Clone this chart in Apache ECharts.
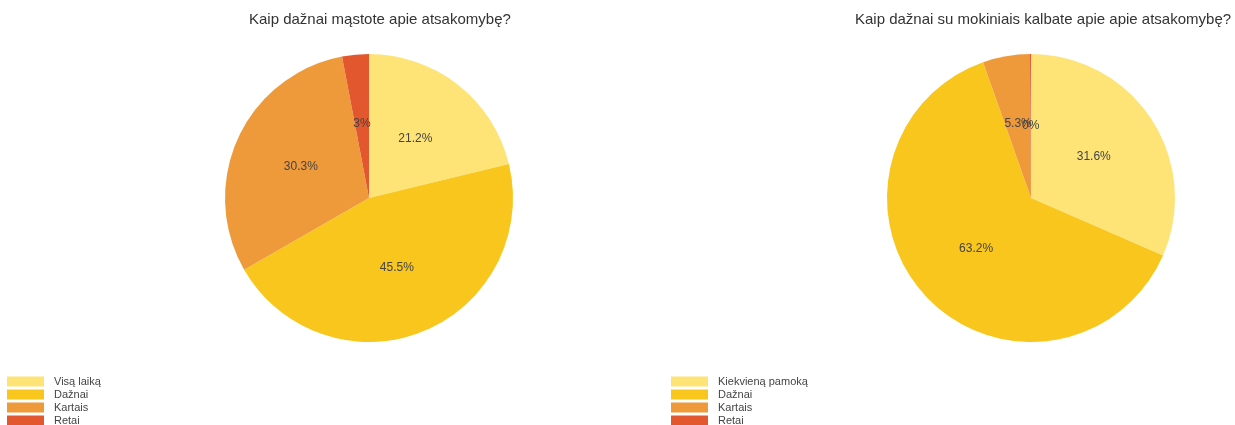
<!DOCTYPE html>
<html>
<head>
<meta charset="utf-8">
<script src="https://cdn.jsdelivr.net/npm/echarts@6/dist/echarts.min.js"></script>
<style>
html,body{margin:0;padding:0;background:#fff;}
#c{width:1235px;height:425px;}
</style>
</head>
<body>
<div id="c"></div>
<script>
const title1 = 'Kaip dažnai mąstote apie atsakomybę?';
const title2 = 'Kaip dažnai su mokiniais kalbate apie apie atsakomybę?';
const categories1 = ['Visą laiką', 'Dažnai', 'Kartais', 'Retai'];
const categories2 = ['Kiekvieną pamoką', 'Dažnai', 'Kartais', 'Retai'];
const values1 = [21.2, 45.5, 30.3, 3];
const values2 = [31.6, 63.2, 5.3, 0];
const colors = ['#FEE477', '#F8C61C', '#EE9A3B', '#E3572F'];

const chart = echarts.init(document.getElementById('c'));
function mk(cats, vals) {
  return cats.map((n, i) => ({ name: n, value: vals[i], itemStyle: { color: colors[i] } }));
}
const font = 'Liberation Sans, Arial, sans-serif';
const legendCommon = {
  orient: 'vertical',
  top: 376,
  height: 200,
  padding: 0,
  icon: 'rect',
  itemWidth: 37,
  itemHeight: 10,
  itemGap: 2,
  textStyle: { fontFamily: font, fontSize: 11, color: '#444', lineHeight: 10, padding: [0, 0, 0, 5] }
};
const labelCommon = { show: true, position: 'inner', formatter: '{c}%', fontFamily: font, fontSize: 12, color: '#444' };
chart.setOption({
  animation: false,
  title: [
    { text: title1, left: 249, top: 12, padding: 0, textStyle: { fontFamily: font, fontSize: 15, fontWeight: 'normal', color: '#333' } },
    { text: title2, left: 855, top: 12, padding: 0, textStyle: { fontFamily: font, fontSize: 15, fontWeight: 'normal', color: '#333' } }
  ],
  legend: [
    Object.assign({}, legendCommon, { left: 7, data: categories1 }),
    Object.assign({}, legendCommon, { left: 671, data: categories2 })
  ],
  series: [
    {
      type: 'pie', center: [369, 198], radius: 144, startAngle: 90, clockwise: true,
      avoidLabelOverlap: false,
      data: mk(categories1, values1),
      label: labelCommon,
      labelLine: { show: false }
    },
    {
      type: 'pie', center: [1031, 198], radius: 144, startAngle: 90, clockwise: true,
      minAngle: 0.4, avoidLabelOverlap: false,
      data: mk(categories2, values2),
      label: labelCommon,
      labelLine: { show: false }
    }
  ]
});

// ECharts hides labels of zero-value sectors; draw those labels from the pie's own layout.
const extra = [];
[[0, values1], [1, values2]].forEach(function (pair) {
  const sIdx = pair[0], vals = pair[1];
  let data = null;
  try { data = chart.getModel().getSeriesByIndex(sIdx).getData(); } catch (e) { data = null; }
  if (!data) return;
  vals.forEach(function (v, i) {
    if (v !== 0) return;
    const lay = data.getItemLayout(i);
    if (!lay) return;
    const mid = (lay.startAngle + lay.endAngle) / 2;
    const rr = ((lay.r0 || 0) + lay.r) / 2;
    extra.push({
      type: 'text', silent: true, z: 10,
      x: lay.cx + rr * Math.cos(mid),
      y: lay.cy + rr * Math.sin(mid),
      style: { text: v + '%', align: 'center', verticalAlign: 'middle', fill: '#444', font: '12px ' + font }
    });
  });
});
if (extra.length) chart.setOption({ graphic: extra });
</script>
</body>
</html>
